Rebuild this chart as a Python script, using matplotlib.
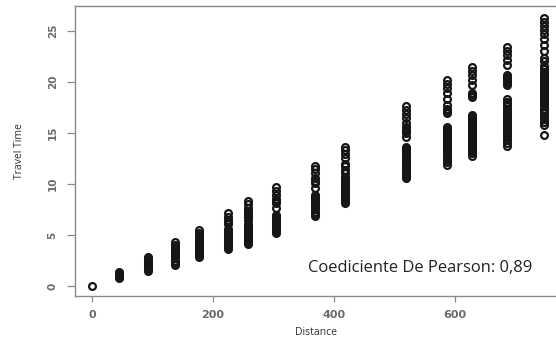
import matplotlib.pyplot as plt

# distance columns and the travel times observed at each one
distances = [0, 45, 92, 137, 177, 225, 258, 304, 369, 418, 519, 587, 628, 686, 747]

tt_0 = [0.0]
tt_45 = [0.8, 0.9, 1.0, 1.1, 1.2, 1.3, 1.4]
tt_92 = [1.5, 1.7, 1.9, 2.1, 2.3, 2.5, 2.6, 2.85]
tt_137 = [2.1, 2.3, 2.5, 2.7, 2.9, 3.1, 3.3, 3.5, 3.7, 3.9, 4.0, 4.3]
tt_177 = [2.8, 3.0, 3.2, 3.4, 3.6, 3.8, 4.0, 4.2, 4.4, 4.6, 4.8, 5.0, 5.2, 5.5]
tt_225 = [3.6, 3.8, 4.0, 4.2, 4.4, 4.6, 4.8, 5.0, 5.2, 5.4, 5.6,
          6.1, 6.3, 6.5, 6.8, 7.15]
tt_258 = [4.1, 4.3, 4.5, 4.7, 4.9, 5.1, 5.3, 5.5, 5.7, 5.9, 6.1,
          6.45, 6.8, 7.0, 7.2, 7.4, 7.6, 8.0, 8.3]
tt_304 = [5.2, 5.4, 5.6, 5.8, 6.0, 6.2, 6.4, 6.6, 6.8, 7.0,
          7.6, 8.1, 8.3, 8.5, 8.9, 9.3, 9.7]
tt_369 = [6.9, 7.1, 7.3, 7.5, 7.7, 7.9, 8.1, 8.3, 8.5, 8.7, 8.9,
          9.6, 10.1, 10.3, 10.6, 11.1, 11.5, 11.8]
tt_418 = [8.1, 8.3, 8.5, 8.7, 8.9, 9.1, 9.3, 9.5, 9.7, 9.9, 10.1, 10.3, 10.5, 10.7,
          11.1, 11.4, 11.8, 12.0, 12.5, 12.9, 13.3, 13.6]
tt_519 = [10.6, 10.8, 11.0, 11.2, 11.4, 11.6, 11.8, 12.0, 12.2, 12.4, 12.6, 12.8,
          13.0, 13.2, 13.4, 13.6,
          14.6, 15.0, 15.2, 15.4, 15.6, 16.0, 16.5, 16.9, 17.3, 17.6]
tt_587 = [11.9, 12.2, 12.4, 12.6, 12.8, 13.0, 13.2, 13.4, 13.6, 13.8, 14.0, 14.2,
          14.4, 14.6, 14.8, 15.0, 15.2, 15.4, 15.6,
          17.0, 17.2, 17.4, 17.7, 18.3, 18.9, 19.4, 19.8, 20.2]
tt_628 = [12.7, 13.0, 13.2, 13.4, 13.6, 13.8, 14.0, 14.2, 14.4, 14.6, 14.8, 15.0,
          15.2, 15.4, 15.6, 15.8, 16.0, 16.2, 16.4, 16.6, 16.8,
          18.5, 18.7, 18.9, 19.7, 20.2, 20.7, 21.1, 21.5]
tt_686 = [13.7, 14.0, 14.3, 14.6, 14.8, 15.0, 15.2, 15.4, 15.6, 15.8, 16.0, 16.2,
          16.4, 16.6, 16.8, 17.0, 17.2, 17.4, 17.6, 17.8, 18.0, 18.3,
          19.7, 19.9, 20.1, 20.3, 20.5, 20.7, 21.7, 22.2, 22.6, 23.0, 23.4]
tt_747 = [14.8, 15.8, 16.1, 16.4, 16.7, 17.0, 17.2, 17.4, 17.6, 17.8, 18.0, 18.2,
          18.4, 18.6, 18.8, 19.0, 19.2, 19.4, 19.6, 19.8, 20.0, 20.2, 20.4, 20.6,
          20.8, 21.0, 21.3, 21.6, 22.1, 22.4, 23.0, 23.6, 24.2, 24.7, 25.1, 25.5,
          25.9, 26.3]

travel_times = [tt_0, tt_45, tt_92, tt_137, tt_177, tt_225, tt_258, tt_304,
                tt_369, tt_418, tt_519, tt_587, tt_628, tt_686, tt_747]

x_ticks = [0, 200, 400, 600]
y_ticks = [0, 5, 10, 15, 20, 25]
pearson_label = 'Coediciente De Pearson: 0,89'

xs = []
ys = []
for d, times in zip(distances, travel_times):
    for t in times:
        xs.append(d)
        ys.append(t)

fig = plt.figure(figsize=(5.56, 3.43), dpi=100)
ax = fig.add_axes([75 / 556, 47 / 343, 1 - 75 / 556, 290 / 343])

ax.plot(xs, ys, 'o', markerfacecolor='none', markeredgecolor='#151515',
        markersize=4.9, markeredgewidth=1.6)

ax.set_xlim(-28, 767)
ax.set_ylim(-0.98, 27.45)

ax.spines['right'].set_visible(False)
for s in ['left', 'bottom', 'top']:
    ax.spines[s].set_color('#8a8a8a')
    ax.spines[s].set_linewidth(1.0)

ax.set_xticks(x_ticks)
ax.set_yticks(y_ticks)
ax.tick_params(direction='out', width=0.9, color='#8a8a8a', labelcolor='#6a6a6a')
ax.tick_params(axis='x', length=4, pad=6, labelsize=8)
ax.tick_params(axis='y', length=5.5, pad=7, labelsize=7.5)
for lab in ax.get_yticklabels():
    lab.set_rotation(90)
    lab.set_va('center')
for lab in ax.get_xticklabels() + ax.get_yticklabels():
    lab.set_family('DejaVu Sans')
    lab.set_fontweight('bold')

ax.set_xlabel('Distance', family='Open Sans', fontsize=7.5, color='#333333',
              labelpad=5)
ax.set_ylabel('Travel Time', family='Open Sans', fontsize=7.5, color='#333333',
              labelpad=16)

ax.text(357, 1.37, pearson_label, family='Open Sans', fontsize=11.9,
        color='#222222', va='baseline', ha='left')

fig.savefig('out.png', dpi=100)
